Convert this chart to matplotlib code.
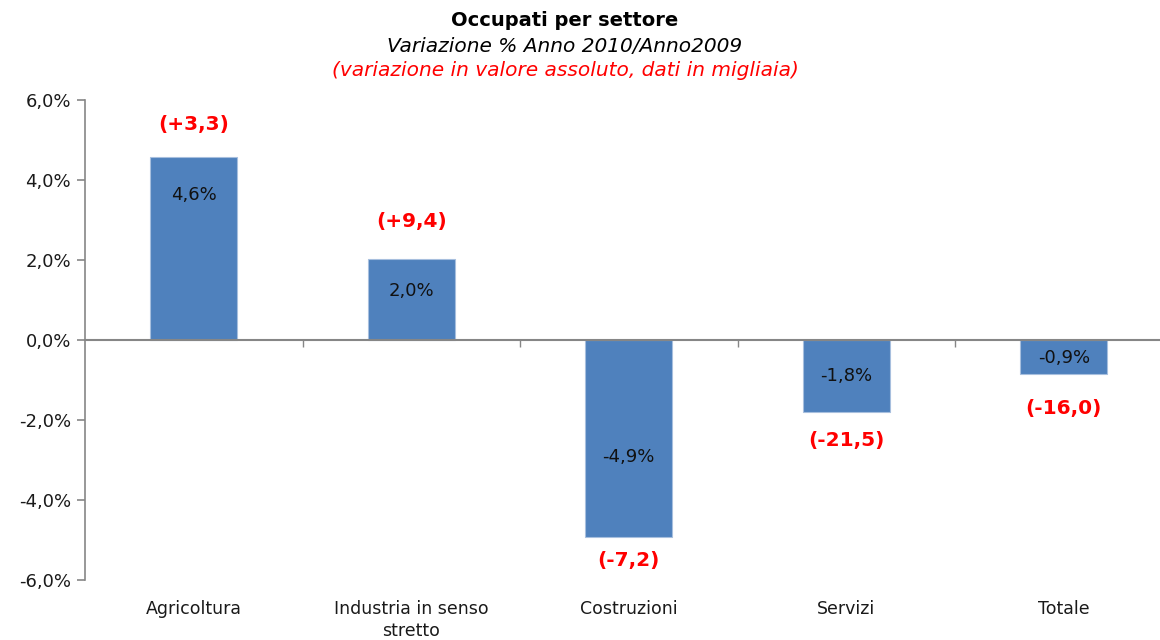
import matplotlib
matplotlib.use("Agg")
import matplotlib.pyplot as plt
import matplotlib.transforms as mtransforms
import numpy as np

plt.rcParams["font.family"] = ["DejaVu Sans"]

categories = ["Agricoltura", "Industria in senso\nstretto", "Costruzioni", "Servizi", "Totale"]
pct_values = [4.57, 2.03, -4.93, -1.81, -0.86]
pct_labels = ["4,6%", "2,0%", "-4,9%", "-1,8%", "-0,9%"]
abs_labels = ["(+3,3)", "(+9,4)", "(-7,2)", "(-21,5)", "(-16,0)"]
yticks = [-6, -4, -2, 0, 2, 4, 6]
ytick_labels = ["-6,0%", "-4,0%", "-2,0%", "0,0%", "2,0%", "4,0%", "6,0%"]

W, H = 1160, 640
fig = plt.figure(figsize=(W / 100, H / 100), dpi=100)
ax_left, ax_right, ax_top, ax_bot = 85, 1172.5, 100, 580
ax = fig.add_axes([ax_left / W, 1 - ax_bot / H, (ax_right - ax_left) / W, (ax_bot - ax_top) / H])

x = np.arange(len(categories))
bars = ax.bar(x, pct_values, width=0.4, color="#4F81BD", edgecolor="#A7BFDE", linewidth=0.8, zorder=3)
ax.set_xlim(-0.5, len(categories) - 0.5)
ax.set_ylim(-6, 6)

grey = "#868686"
for s in ["top", "right"]:
    ax.spines[s].set_visible(False)
ax.spines["left"].set_color(grey)
ax.spines["left"].set_linewidth(1.2)
ax.spines["bottom"].set_position(("data", 0))
ax.spines["bottom"].set_color(grey)
ax.spines["bottom"].set_linewidth(1.5)
ax.spines["bottom"].set_zorder(4)

ax.set_yticks(yticks)
ax.set_yticklabels(ytick_labels, fontsize=13, color="#1a1a1a")
ax.tick_params(axis="y", direction="out", length=6, width=1.2, color=grey, pad=4)
ax.set_xticks(np.arange(0.5, len(categories) - 0.5, 1.0))
ax.set_xticklabels([])
ax.tick_params(axis="x", direction="out", length=5, width=1.0, color=grey)

trans = mtransforms.blended_transform_factory(ax.transData, ax.transAxes)
for xi, c in zip(x, categories):
    ax.text(xi, -0.042, c, transform=trans, ha="center", va="top", fontsize=12.5,
            color="#1a1a1a", linespacing=1.3)

# inner labels (offset in points from bar end)
inner_offsets = [-38, -32, 80, 36, 16]
for xi, v, lab, off in zip(x, pct_values, pct_labels, inner_offsets):
    ax.annotate(lab, (xi, v), xytext=(0, off * 0.72), textcoords="offset points",
                ha="center", va="center", fontsize=13, color="#111111", zorder=5)

outer_offsets = [33, 37, -23, -28, -34]
for xi, v, lab, off in zip(x, pct_values, abs_labels, outer_offsets):
    ax.annotate(lab, (xi, v), xytext=(0, off * 0.72), textcoords="offset points",
                ha="center", va="center", fontsize=14.5, color="#FF0000",
                fontweight="bold", zorder=5)

fig.text(565 / W, 1 - 20 / H, "Occupati per settore", ha="center", va="center",
         fontsize=14, fontweight="bold", color="#000000")
fig.text(565 / W, 1 - 46 / H, "Variazione % Anno 2010/Anno2009", ha="center", va="center",
         fontsize=14.5, style="italic", color="#000000")
fig.text(565 / W, 1 - 71 / H, "(variazione in valore assoluto, dati in migliaia)", ha="center",
         va="center", fontsize=14.5, style="italic", color="#FF0000")

fig.savefig("out.png", dpi=100)
